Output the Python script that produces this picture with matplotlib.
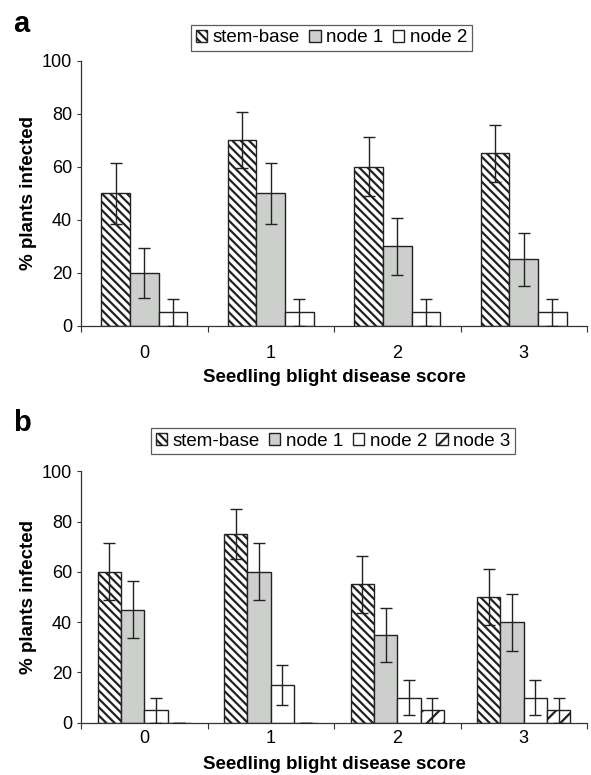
import numpy as np
import matplotlib.pyplot as plt

plt.rcParams['font.family'] = ['Liberation Sans', 'DejaVu Sans']
plt.rcParams['hatch.linewidth'] = 1.6

scores = ['0', '1', '2', '3']

# panel a
a_names = ['stem-base', 'node 1', 'node 2']
a_vals = [[50, 70, 60, 65],
          [20, 50, 30, 25],
          [5, 5, 5, 5]]
a_errs = [[11.5, 10.6, 11.2, 10.6],
          [9.4, 11.5, 10.7, 10.0],
          [5, 5, 5, 5]]

# panel b
b_names = ['stem-base', 'node 1', 'node 2', 'node 3']
b_vals = [[60, 75, 55, 50],
          [45, 60, 35, 40],
          [5, 15, 10, 10],
          [0, 0, 5, 5]]
b_errs = [[11.3, 10.0, 11.3, 11.3],
          [11.3, 11.3, 10.8, 11.3],
          [5, 8, 7, 7],
          [0, 0, 5, 5]]

styles = {'stem-base': dict(color='white', hatch='\\\\\\\\'),
          'node 1': dict(color='#cdcfcd', hatch=None),
          'node 2': dict(color='white', hatch=None),
          'node 3': dict(color='white', hatch='//')}

W, H = 591, 775
fig = plt.figure(figsize=(W / 100, H / 100), dpi=100)


def panel(rect, names, vals, errs, width, legend_xy, xpad, lpad):
    ax = fig.add_axes(rect)
    x = np.arange(len(scores))
    n = len(names)
    handles = []
    for i, name in enumerate(names):
        st = styles[name]
        pos = x + (i - (n - 1) / 2) * width
        b = ax.bar(pos, vals[i], width, color=st['color'], hatch=st['hatch'],
                   edgecolor='#222222', linewidth=1.0, zorder=2, label=name)
        ax.errorbar(pos, vals[i], yerr=errs[i], fmt='none', ecolor='#222222',
                    elinewidth=1.0, capsize=4.2, capthick=1.0, zorder=3)
        handles.append(b)
    ax.set_xlim(-0.5, 3.5)
    ax.set_ylim(0, 100)
    ax.set_yticks(range(0, 101, 20))
    ax.set_xticks([-0.5, 0.5, 1.5, 2.5, 3.5])
    ax.set_xticklabels([])
    ax.set_xticks(x, minor=True)
    ax.set_xticklabels(scores, minor=True)
    ax.tick_params(axis='x', which='major', direction='out', length=4.5, width=0.8, color='#333333')
    ax.tick_params(axis='x', which='minor', length=0, labelsize=13, pad=xpad)
    ax.tick_params(axis='y', direction='out', length=3, width=0.8, color='#333333',
                   labelsize=13, pad=3.5)
    for s in ['top', 'right']:
        ax.spines[s].set_visible(False)
    for s in ['left', 'bottom']:
        ax.spines[s].set_color('#333333')
        ax.spines[s].set_linewidth(0.9)
    ax.set_ylabel('% plants infected', fontsize=13.5, fontweight='bold')
    ax.yaxis.set_label_coords(-0.087, 0.5)
    ax.set_xlabel('Seedling blight disease score', fontsize=13.5, fontweight='bold', labelpad=lpad)
    leg = fig.legend(handles=handles, loc='center', bbox_to_anchor=legend_xy, ncol=n,
                     fontsize=13.5, frameon=True, fancybox=False, edgecolor='#333333',
                     handlelength=0.6, handleheight=0.6, handletextpad=0.3,
                     columnspacing=0.5, borderpad=0.25, borderaxespad=0)
    leg.get_frame().set_linewidth(0.9)
    return ax


panel([81 / W, 1 - 325.7 / H, 506 / W, 265 / H], a_names, a_vals, a_errs, 0.227,
      (331.5 / W, 1 - 38 / H), 14, 5)
panel([81 / W, 1 - 722.7 / H, 506 / W, 251.4 / H], b_names, b_vals, b_errs, 0.184,
      (333 / W, 1 - 441 / H), 5, 7)

fig.text(13 / W, 1 - 32 / H, 'a', fontsize=21, fontweight='bold', va='baseline')
fig.text(13 / W, 1 - 431 / H, 'b', fontsize=21, fontweight='bold', va='baseline')

fig.savefig('out.png', dpi=100)
